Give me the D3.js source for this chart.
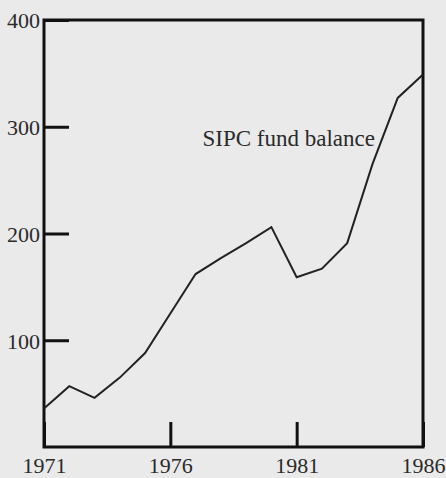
<!DOCTYPE html>
<html>
<head>
	<title>SIPC fund balance</title>
	<script src="https://cdn.jsdelivr.net/npm/d3@7"></script>
	<style>
		body { margin: 0; background: #eaeaea; }
		svg { display: block; }
		.tick text { font-family: "Liberation Serif", "DejaVu Serif", serif; font-size: 22px; fill: #2a2a2a; }
	</style>
</head>
<body>
<div id="vis"></div>
<script type="text/javascript">
// data (millions of dollars)
var years = [1971, 1972, 1973, 1974, 1975, 1976, 1977, 1978, 1979, 1980, 1981, 1982, 1983, 1984, 1985, 1986];
var balance = [36, 57, 46, 65, 88, 125, 162, 177, 191, 206, 159, 167, 191, 265, 327, 349];
var yTicks = [100, 200, 300, 400];
var xTicks = [1971, 1976, 1981, 1986];
var seriesLabel = "SIPC fund balance";

var W = 446, H = 478;
var svg = d3.select("#vis").append("svg").attr("width", W).attr("height", H);
svg.append("rect").attr("width", W).attr("height", H).attr("fill", "#eaeaea");

var x = d3.scaleLinear().domain([1971, 1986]).range([44, 423]);
var y = d3.scaleLinear().domain([0, 400]).range([447, 20]);

// ticks point inward, labels stay outside
var yAxis = d3.axisLeft(y).tickValues(yTicks).tickSizeInner(-25).tickSizeOuter(0).tickPadding(4);
var xAxis = d3.axisBottom(x).tickValues(xTicks).tickSizeInner(-25).tickSizeOuter(0).tickPadding(9).tickFormat(d3.format("d"));

var gy = svg.append("g").attr("transform", "translate(" + x(1971) + ",0)").call(yAxis);
var gx = svg.append("g").attr("transform", "translate(0," + y(0) + ")").call(xAxis);
[gy, gx].forEach(function(g){
	g.select(".domain").remove();
	g.selectAll(".tick line").attr("stroke", "#111").attr("stroke-width", 3);
});
gy.selectAll(".tick text").attr("dy", "0.36em");
gx.selectAll(".tick text").attr("dy", "0.75em");

// frame
svg.append("rect")
	.attr("x", x(1971)).attr("y", y(400))
	.attr("width", x(1986) - x(1971)).attr("height", y(0) - y(400))
	.attr("fill", "none").attr("stroke", "#111").attr("stroke-width", 3);

var line = d3.line()
	.x(function(d, i){ return x(years[i]); })
	.y(function(d){ return y(d); });
svg.append("path").datum(balance)
	.attr("d", line)
	.attr("fill", "none")
	.attr("stroke", "#222")
	.attr("stroke-width", 2)
	.attr("stroke-linejoin", "miter");

svg.append("text")
	.attr("x", 375).attr("y", y(282))
	.attr("text-anchor", "end")
	.style("font-family", "'Liberation Serif', serif")
	.style("font-size", "23px")
	.attr("fill", "#2a2a2a")
	.text(seriesLabel);
</script>
</body>
</html>
